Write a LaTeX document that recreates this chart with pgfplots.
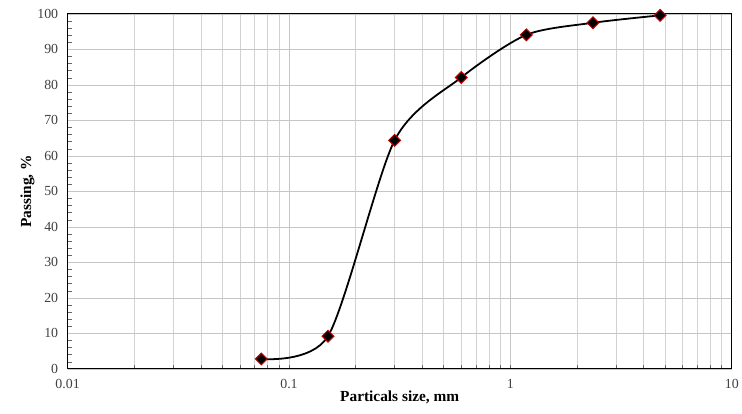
\documentclass[border=0pt]{standalone}
\usepackage{pgfplots}
\pgfplotsset{compat=1.18}
\usepackage{fontspec}
\setmainfont{Liberation Serif}
\begin{document}
\begin{tikzpicture}[x=1bp,y=1bp]
\begin{semilogxaxis}[
  scale only axis,
  width=668bp, height=357bp,
  xmin=0.01, xmax=10, ymin=0, ymax=100,
  xtick={0.01,0.1,1,10},
  xticklabels={0.01,0.1,1,10},
  ytick={0,10,...,100},
  minor y tick num=4,
  grid=both,
  major grid style={gray!45, line width=0.6bp},
  minor grid style={gray!35, line width=0.5bp},
  yminorgrids=false,
  axis line style={black, line width=0.9bp},
  tick style={black!60, line width=0.5bp},
  major tick length=0bp, minor tick length=4bp,
  xtick pos=bottom, ytick pos=left,
  tick align=inside,
  every tick label/.append style={font=\fontsize{14}{16}\selectfont, text=black!75},
  /pgf/number format/assume math mode=true,
  xticklabel style={yshift=-7bp},
  yticklabel style={xshift=-6bp},
  xlabel={\textbf{Particals size, mm}},
  ylabel={\textbf{Passing, \%}},
  label style={font=\fontsize{15.5}{17}\selectfont},
  xlabel style={yshift=5bp},
  ylabel style={yshift=-4bp},
]
\addplot[black, line width=1.8bp, smooth, tension=0.45,
  mark=square*, mark size=4.2bp,
  mark options={fill=black, draw=red!75!black, line width=1bp, solid, rotate=45}]
coordinates {
(0.075,2.8)
(0.15,9.2)
(0.3,64.4)
(0.6,82.1)
(1.18,94.1)
(2.36,97.5)
(4.75,99.6)
};
\end{semilogxaxis}
\path ([xshift=-68bp,yshift=-45bp]current axis.south west) rectangle ([xshift=6bp,yshift=14bp]current axis.north east);
\end{tikzpicture}
\end{document}
